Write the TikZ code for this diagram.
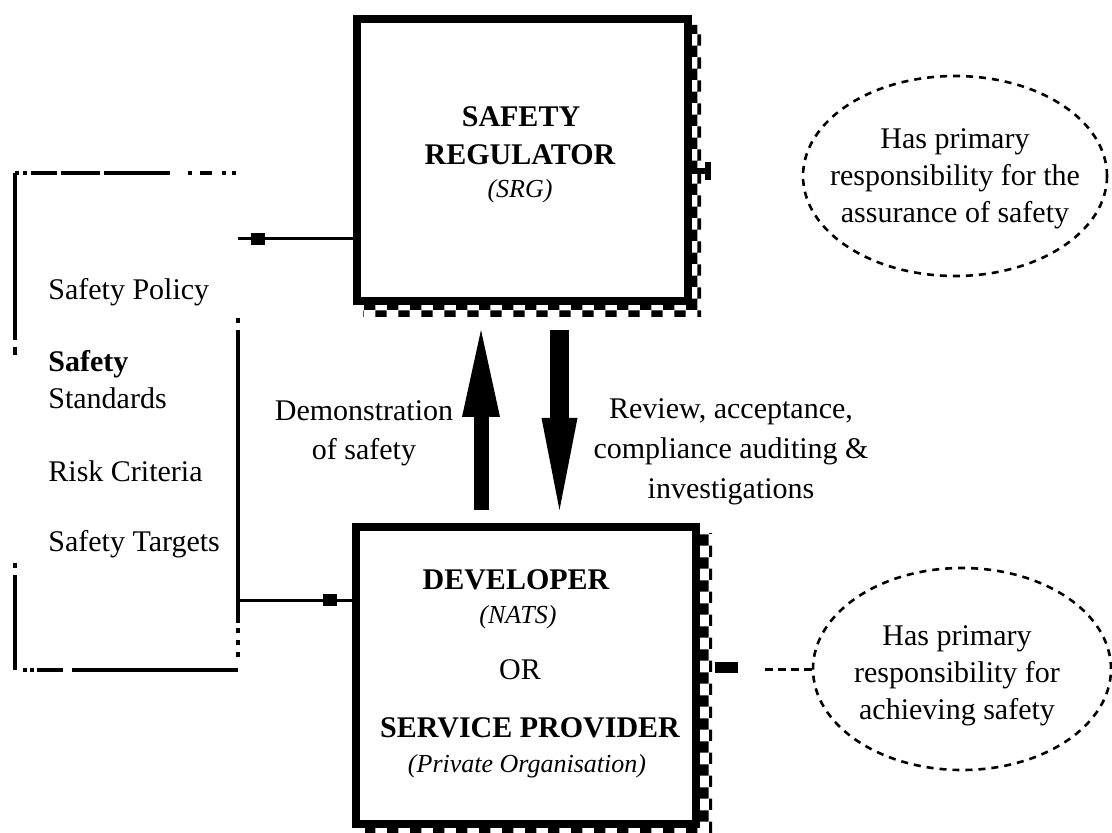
\documentclass[tikz,border=0pt]{standalone}
\usepackage{fontspec}
\setmainfont{Liberation Serif}
\usetikzlibrary{arrows.meta,calc,patterns,shapes.geometric}

\tikzset{
  bigbox/.style={draw, line width=4pt, inner sep=0pt, fill=white},
  shadowband/.style={pattern=checkerboard, pattern color=black},
  body/.style={font=\fontsize{15pt}{18.5pt}\selectfont, inner sep=0pt},
  caps/.style={font=\fontsize{15pt}{18pt}\selectfont\bfseries, inner sep=0pt},
  paren/.style={font=\fontsize{13pt}{16pt}\selectfont\itshape, inner sep=0pt},
  frame/.style={line width=1.6pt},
  conn/.style={line width=1.5pt},
  tipbox/.style={fill=black, minimum width=7pt, minimum height=6pt, inner sep=0pt},
  cloud/.style={ellipse, draw, line width=1.3pt, dash pattern=on 3.5pt off 3pt, inner sep=0pt},
}

\begin{document}
\begin{tikzpicture}[x=0.5pt,y=-0.5pt]
\useasboundingbox (0,0) rectangle (1112,833);

% ---------- main boxes ----------
\node[bigbox, minimum width=165.5pt, minimum height=141pt] (reg) at (522.5,160) {};
\node[bigbox, minimum width=170pt, minimum height=148.5pt] (dev) at (526,675.5) {};

% checkered drop shadows
\fill[shadowband] ($(reg.north east)+(0,10)$) -- ++(9,0) -- ($(reg.south east)+(9,12)$)
  -- ($(reg.south west)+(10,12)$) -- ($(reg.south west)+(10,0)$) -- (reg.south east) -- cycle;
\fill[shadowband] ($(dev.north east)+(0,10)$) -- ++(12,0) -- ($(dev.south east)+(12,12)$)
  -- ($(dev.south west)+(13,12)$) -- ($(dev.south west)+(13,0)$) -- (dev.south east) -- cycle;

% box texts
\node[caps] (regA) at (521,117) {SAFETY};
\node[caps] (regB) at (520,155) {REGULATOR};
\node[paren] (regC) at (520,191) {(SRG)};

\node[caps] (devA) at (516,580) {DEVELOPER};
\node[paren] (devB) at (518,617) {(NATS)};
\node[body] (devC) at (520,670) {OR};
\node[caps] (devD) at (530,728) {SERVICE PROVIDER};
\node[paren] (devE) at (527,766) {(Private Organisation)};

% ---------- left list with broken frame ----------
\node[minimum width=111.5pt, minimum height=248.5pt, inner sep=0pt, outer sep=0pt] (lbox) at (126.5,421.5) {};
\foreach \a/\b in {0/167,174/182,390/395,402/497}
  \draw[frame] ($(lbox.north west)+(0,\a)$) -- ($(lbox.north west)+(0,\b)$);
\foreach \a/\b in {145/150,157/450,455/460,467/472,479/484}
  \draw[frame] ($(lbox.north east)+(0,\a)$) -- ($(lbox.north east)+(0,\b)$);
\foreach \a/\b in {0/4,8/12,16/42,46/85,89/155,173/177,185/197,207/211,217/221}
  \draw[frame] ($(lbox.north west)+(\a,0)$) -- ($(lbox.north west)+(\b,0)$);
\foreach \a/\b in {8/12,15/19,22/48,57/223}
  \draw[frame] ($(lbox.south west)+(\a,0)$) -- ($(lbox.south west)+(\b,0)$);

\node[body, anchor=west] (pol) at (48,292) {Safety Policy};
\node[body, anchor=west] (stdA) at (48,364) {\bfseries Safety};
\node[body, anchor=west] (stdB) at (48,398) {Standards};
\node[body, anchor=west] (risk) at (48,471) {Risk Criteria};
\node[body, anchor=west] (targ) at (48,544) {Safety Targets};

% ---------- connectors ----------
\draw[conn] (reg.west |- 0,239) -- node[tipbox, pos=0.83] {} (lbox.east |- 0,239);
\draw[conn] (lbox.east |- 0,600) -- node[tipbox, pos=0.81] {} (dev.west |- 0,600);

% stub on the regulator's right side
\draw[line width=3pt, -{Bar[width=9pt]}] (reg.east |- 0,171) -- ++(19,0);

% heavy two-way arrows between the boxes
\draw[line width=7.5pt, -{Triangle[length=43.5pt,width=19pt,line width=0pt]},
  shorten <=6.5pt, shorten >=12.5pt] (481,0 |- dev.north) -- (481,0 |- reg.south);
\draw[line width=9.5pt, -{Triangle[length=46pt,width=18pt,line width=0pt]},
  shorten <=12.5pt, shorten >=6.5pt] (559.5,0 |- reg.south) -- (559.5,0 |- dev.north);

\node[body, align=center, font=\fontsize{15pt}{19.5pt}\selectfont] (demo) at (364,433) {Demonstration\\of safety};
\node[body, align=center, font=\fontsize{15pt}{20pt}\selectfont] (rev) at (731,452) {Review, acceptance,\\compliance auditing \&\\investigations};

% ---------- responsibility ellipses ----------
\node[cloud, minimum width=152pt, minimum height=100pt] (ellA) at (955,176) {};
\node[body, align=center] (ellAt) at (955,179) {Has primary\\responsibility for the\\assurance of safety};

\node[cloud, minimum width=149pt, minimum height=101pt] (ellB) at (962,669) {};
\node[body, align=center] (ellBt) at (957,676) {Has primary\\responsibility for\\achieving safety};

\coordinate (dend) at (762,669);
\draw[conn, dash pattern=on 4pt off 2.5pt] (ellB.west) -- (dend);
\node[fill=black, minimum width=11.5pt, minimum height=5.5pt, inner sep=0pt] (dmark) at (726.5,667.5) {};

\end{tikzpicture}
\end{document}
